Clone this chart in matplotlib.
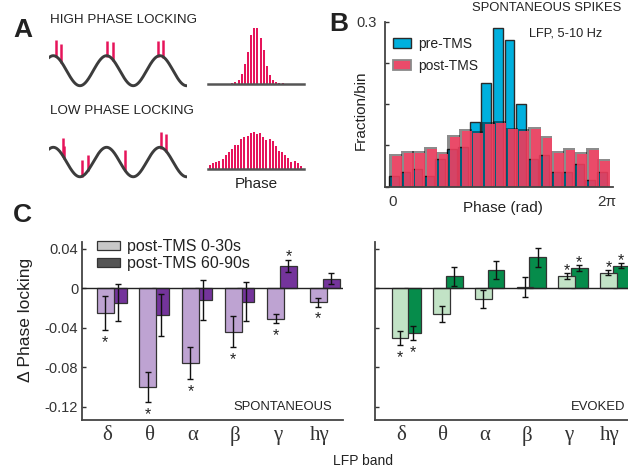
import numpy as np
import matplotlib
matplotlib.use("Agg")
import matplotlib.pyplot as plt
from matplotlib.patches import Patch

plt.rcParams['font.family'] = ['Liberation Sans', 'DejaVu Sans']
plt.rcParams['text.color'] = '#222222'
plt.rcParams['axes.labelcolor'] = '#222222'
plt.rcParams['xtick.color'] = '#333333'
plt.rcParams['ytick.color'] = '#333333'

W, H = 628, 468

# ---------------------------------------------------------------------------
# Panel A: schematic spike trains on an LFP cycle + phase histograms
# ---------------------------------------------------------------------------
high_spike_phase = [0.28, 0.91, 6.29, 7.00, 12.31, 12.93]
high_spike_top = [2.05, 1.76, 1.98, 1.93, 1.98, 2.05]
low_spike_phase = [1.11, 1.26, 3.42, 4.13, 8.45, 12.65, 13.24]
low_spike_top = [1.65, 1.09, 0.14, 0.48, 0.82, 2.02, 1.90]

high_hist = [2, 5, 11, 30, 59, 95, 147, 167, 167, 137, 102, 54, 27, 12, 6, 3, 3]
low_hist = [13, 20, 22, 25, 31, 44, 53, 61, 73, 73, 91, 97, 100, 108, 112,
            106, 109, 98, 88, 91, 85, 70, 55, 52, 44, 35, 23, 25, 20, 10]

# ---------------------------------------------------------------------------
# Panel B: spike phase distributions, spontaneous spikes, 5-10 Hz LFP
# ---------------------------------------------------------------------------
pre_tms = [0.019, 0.027, 0.032, 0.019, 0.050, 0.068, 0.073, 0.118, 0.188, 0.288,
           0.266, 0.151, 0.050, 0.058, 0.027, 0.027, 0.042, 0.012, 0.027]
post_tms = [0.055, 0.062, 0.062, 0.068, 0.059, 0.091, 0.102, 0.097, 0.114, 0.115,
            0.104, 0.102, 0.105, 0.088, 0.062, 0.067, 0.059, 0.066, 0.046]

# ---------------------------------------------------------------------------
# Panel C: change in phase locking per LFP band
# ---------------------------------------------------------------------------
bands = ['δ', 'θ', 'α', 'β', 'γ', 'hγ']

spont_early = [-0.025, -0.100, -0.076, -0.044, -0.031, -0.014]
spont_early_err = [0.017, 0.0155, 0.016, 0.016, 0.0047, 0.0045]
spont_late = [-0.0145, -0.027, -0.012, -0.0135, 0.023, 0.0098]
spont_late_err = [0.019, 0.021, 0.020, 0.0195, 0.006, 0.0054]
spont_early_sig = [1, 1, 1, 1, 1, 1]
spont_late_sig = [0, 0, 0, 0, 1, 0]

evoked_early = [-0.0506, -0.0263, -0.011, 0.001, 0.0125, 0.016]
evoked_early_err = [0.0068, 0.0083, 0.0093, 0.0101, 0.0027, 0.0025]
evoked_late = [-0.0456, 0.0122, 0.0186, 0.0314, 0.0206, 0.023]
evoked_late_err = [0.0071, 0.0099, 0.0095, 0.0098, 0.0027, 0.0024]
evoked_early_sig = [1, 0, 0, 0, 1, 1]
evoked_late_sig = [1, 0, 0, 0, 1, 1]

SPIKE = '#e6145a'
WAVE = '#3c3c3c'
BLUE = '#00b0de'
RED = (0.99, 0.25, 0.39, 0.85)
AXC = '#444444'

fig = plt.figure(figsize=(W / 100, H / 100), dpi=100)


def px_axes(left, top, right, bottom):
    return fig.add_axes([left / W, 1 - bottom / H, (right - left) / W, (bottom - top) / H])


def fig_text(x, y, s, **kw):
    fig.text(x / W, 1 - y / H, s, **kw)


# ---- A: wave + spikes
def wave_panel(top, bottom, ylim, phases, tops):
    ax = px_axes(49.3, top, 186.7, bottom)
    t = np.linspace(-0.47, 5 * np.pi, 400)
    ph = np.array(phases)
    ax.vlines(ph, np.cos(ph) - 0.08, tops, color=SPIKE, lw=1.8, zorder=1)
    ax.plot(t, np.cos(t), color=WAVE, lw=2.1, zorder=2)
    ax.set_xlim(-0.47, 15.73)
    ax.set_ylim(*ylim)
    ax.axis('off')


wave_panel(38, 88, (-1.153, 2.18), high_spike_phase, high_spike_top)
wave_panel(128, 180, (-1.22, 2.31), low_spike_phase, low_spike_top)


def hist_panel(top, bottom, counts, xlim, ylim):
    ax = px_axes(208, top, 304, bottom)
    ax.bar(np.arange(len(counts)), counts, width=0.63, color=SPIKE, zorder=1)
    ax.set_xlim(*xlim)
    ax.set_ylim(*ylim)
    for s in ['left', 'right', 'top']:
        ax.spines[s].set_visible(False)
    ax.spines['bottom'].set_color('#555555')
    ax.spines['bottom'].set_linewidth(1.8)
    ax.set_xticks([])
    ax.set_yticks([])
    return ax


hist_panel(25, 84, high_hist, (-7.7, 22.8), (0, 177))
hist_panel(125, 169.3, low_hist, (-0.64, 30.0), (0, 133))

fig_text(50, 20, 'HIGH PHASE LOCKING', fontsize=9.6, va='center', ha='left')
fig_text(50, 111, 'LOW PHASE LOCKING', fontsize=9.6, va='center', ha='left')
fig_text(256, 184, 'Phase', fontsize=11, va='center', ha='center')
fig_text(23, 30, 'A', fontsize=19, fontweight='bold', va='center', ha='center')

# ---- B: phase histograms pre/post TMS
axb = px_axes(385, 21.7, 613, 186.7)
bw = 0.3391
bar_w = 0.29
centers = 0.038 + bw * np.arange(len(pre_tms))
post_left = centers + 0.097 - bar_w / 2
shadow_dx, shadow_dy = 0.088, 0.0036
axb.bar(centers, pre_tms, width=bar_w, color=BLUE, edgecolor='#2a2a2a', lw=1.0, zorder=2)
# drop shadow behind the post-TMS bars (darkens whatever lies beneath)
axb.bar(post_left - shadow_dx, np.array(post_tms) + shadow_dy, width=bar_w + shadow_dx,
        align='edge', color=(0, 0, 0, 0.45), lw=0, zorder=3)
axb.bar(post_left, post_tms, width=bar_w, align='edge', facecolor=RED, lw=0, zorder=4)
axb.set_xlim(-0.226, 6.468)
axb.set_ylim(0, 0.3)
axb.set_yticks([0, 0.075, 0.15, 0.225, 0.3])
axb.set_yticklabels(['', '', '', '', '0.3'])
axb.set_xticks([0, 2 * np.pi])
axb.set_xticklabels(['0', '2π'])
axb.tick_params(axis='y', direction='in', length=3, width=1, pad=6, labelsize=10.5)
axb.tick_params(axis='x', length=0, pad=6, labelsize=11)
for s in ['right', 'top']:
    axb.spines[s].set_visible(False)
for s in ['left', 'bottom']:
    axb.spines[s].set_color(AXC)
    axb.spines[s].set_linewidth(1.3)
    axb.spines[s].set_zorder(5)
axb.set_ylabel('Fraction/bin', fontsize=11)
axb.yaxis.set_label_coords(-0.075, 0.465)
axb.set_xlabel('Phase (rad)', fontsize=11)
axb.xaxis.set_label_coords(0.518, -0.087)
axb.legend(handles=[Patch(facecolor=BLUE, edgecolor='#2a2a2a', lw=1.0, label='pre-TMS'),
                    Patch(facecolor='#ea4b6a', edgecolor='#8a8a8a', lw=1.3, label='post-TMS')],
           loc='upper left', bbox_to_anchor=(0.01, 0.94), frameon=False, fontsize=10,
           handlelength=1.3, handleheight=0.7, handletextpad=0.5, labelspacing=0.55,
           borderaxespad=0)
fig_text(472, 8, 'SPONTANEOUS SPIKES', fontsize=9.4, va='center', ha='left')
fig_text(566, 33, 'LFP, 5-10 Hz', fontsize=9.2, va='center', ha='center')
fig_text(339, 24, 'B', fontsize=19, fontweight='bold', va='center', ha='center')


# ---- C: delta phase locking bars
def band_panel(ax, early, early_err, early_sig, late, late_err, late_sig,
               light, dark, xlim, note):
    x = np.arange(len(bands))
    xe = x - 0.04
    xl = x + 0.26
    ax.bar(xl, late, width=0.4, color=dark, edgecolor='#333333', lw=0.9, zorder=2)
    ax.bar(xe, early, width=0.4, color=light, edgecolor='#333333', lw=0.9, zorder=3)
    ax.errorbar(xl, late, yerr=late_err, fmt='none', ecolor='#111111', elinewidth=1.0,
                capsize=2.5, capthick=1.0, zorder=4)
    ax.errorbar(xe, early, yerr=early_err, fmt='none', ecolor='#111111', elinewidth=1.0,
                capsize=2.5, capthick=1.0, zorder=4)
    ax.axhline(0, color='#222222', lw=1.0, zorder=5)
    for xs, vals, errs, sig in [(xe, early, early_err, early_sig), (xl, late, late_err, late_sig)]:
        for xi, v, e, s in zip(xs, vals, errs, sig):
            if not s:
                continue
            if v < 0:
                ax.annotate('*', (xi, v - e), xytext=(0, -9), textcoords='offset points',
                            ha='center', va='center', fontsize=11.5, zorder=6)
            else:
                ax.annotate('*', (xi, v + e), xytext=(0, 2), textcoords='offset points',
                            ha='center', va='center', fontsize=11.5, zorder=6)
    ax.set_xlim(*xlim)
    ax.set_ylim(-0.1337, 0.0473)
    ax.set_yticks([0.04, 0, -0.04, -0.08, -0.12])
    ax.set_xticks(x)
    ax.set_xticklabels(bands, fontfamily='Liberation Serif', fontsize=15)
    ax.tick_params(axis='x', length=0, pad=4)
    ax.tick_params(axis='y', direction='in', length=3, width=1, pad=3, labelsize=10.5)
    for s in ['right', 'top']:
        ax.spines[s].set_visible(False)
    for s in ['left', 'bottom']:
        ax.spines[s].set_color(AXC)
        ax.spines[s].set_linewidth(1.3)
    ax.text(0.957 if note == 'SPONTANEOUS' else 0.988, 0.073, note, transform=ax.transAxes,
            ha='right', va='center', fontsize=9.4)


axc1 = px_axes(82.3, 241.7, 343, 420)
band_panel(axc1, spont_early, spont_early_err, spont_early_sig,
           spont_late, spont_late_err, spont_late_sig,
           '#bea3d2', '#74349b', (-0.58, 5.54), 'SPONTANEOUS')
axc1.set_yticklabels(['0.04', '0', '-0.04', '-0.08', '-0.12'])
axc1.set_ylabel('Δ Phase locking', fontsize=12.5)
axc1.yaxis.set_label_coords(-0.19, 0.56)
axc1.legend(handles=[Patch(facecolor='#c8c8c8', edgecolor='#333333', lw=0.9, label='post-TMS 0-30s'),
                     Patch(facecolor='#555555', edgecolor='#333333', lw=0.9, label='post-TMS 60-90s')],
            loc='upper left', bbox_to_anchor=(0.03, 1.05), frameon=False, fontsize=11.5,
            handlelength=1.5, handleheight=0.5, handletextpad=0.4, labelspacing=0.1,
            borderaxespad=0)

axc2 = px_axes(375, 241.7, 628, 420)
band_panel(axc2, evoked_early, evoked_early_err, evoked_early_sig,
           evoked_late, evoked_late_err, evoked_late_sig,
           '#c2e3c6', '#068c4b', (-0.64, 5.43), 'EVOKED')
axc2.set_yticklabels([])

fig_text(363, 461, 'LFP band', fontsize=10, va='center', ha='center')
fig_text(22.5, 215, 'C', fontsize=19, fontweight='bold', va='center', ha='center')

fig.savefig('out.png', dpi=100)
